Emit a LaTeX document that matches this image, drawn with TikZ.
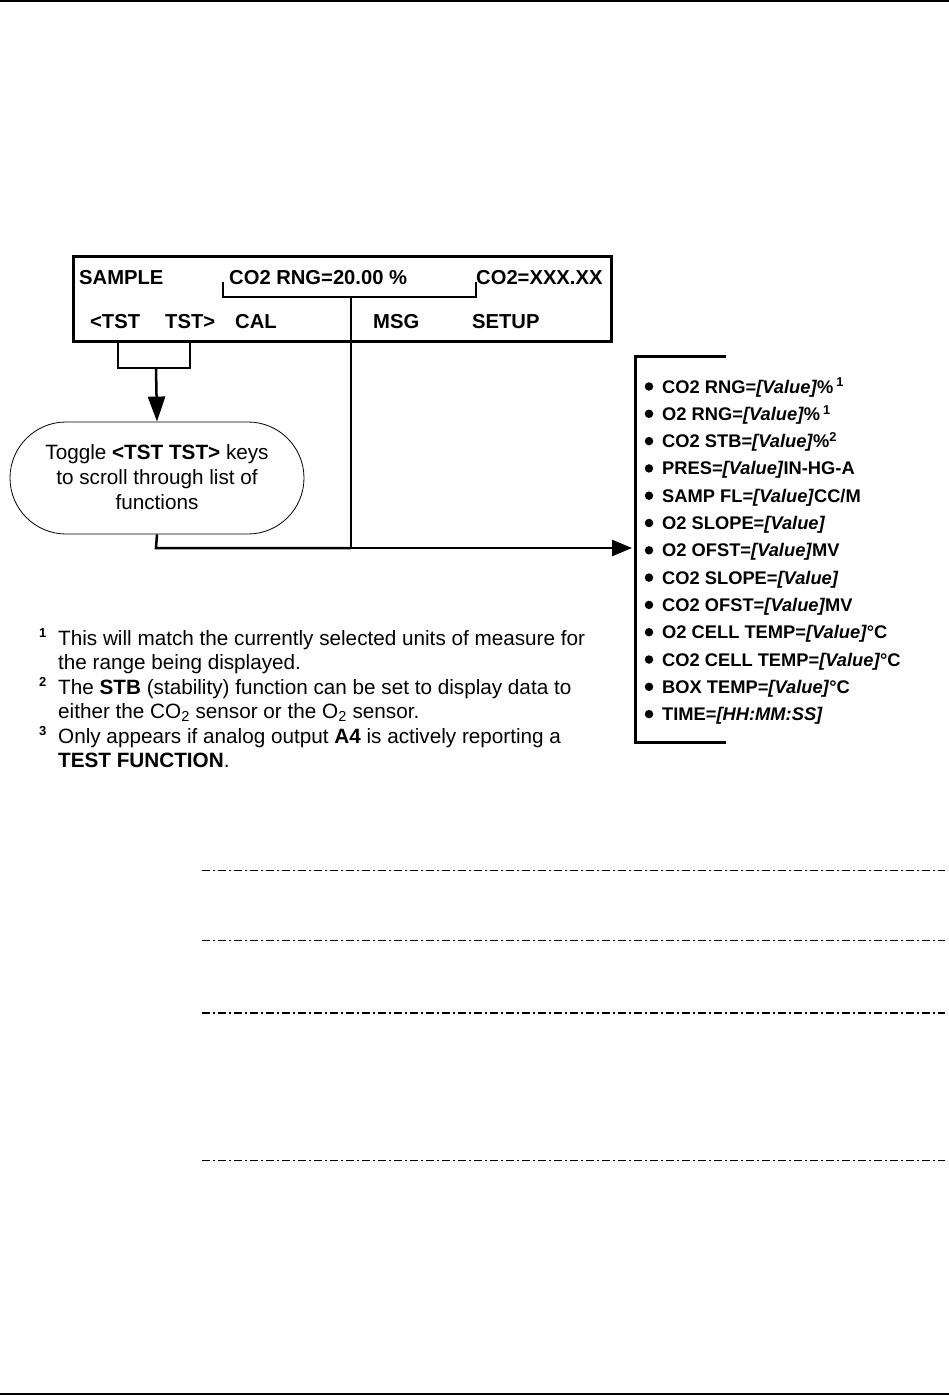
\documentclass[tikz,border=0pt]{standalone}
\usepackage{fontspec}
\setmainfont{Liberation Sans}
\usetikzlibrary{arrows.meta,shapes.misc}
\begin{document}
\begin{tikzpicture}[x=1pt,y=-1pt,line join=miter,
  disp/.style={font=\fontsize{20.2}{24}\selectfont\bfseries,anchor=base west,inner sep=0pt},
  item/.style={font=\fontsize{18.3}{22}\selectfont\bfseries,anchor=base west,inner sep=0pt},
  foot/.style={font=\fontsize{20.7}{24}\selectfont,anchor=base west,inner sep=0pt},
  fnum/.style={font=\fontsize{13}{15}\selectfont\bfseries,anchor=base west,inner sep=0pt},
  bul/.style={circle,fill=black,inner sep=0pt,minimum size=8.5pt},
  thick3/.style={line width=3pt},
  conn/.style={line width=2.5pt},
  arr/.style={-{Triangle[length=25pt,width=17pt]},line width=2.5pt},
  arrR/.style={-{Triangle[length=20pt,width=16pt]},line width=2.5pt},
  ddline/.style={line width=1pt,dash pattern=on 8pt off 3pt on 2pt off 3pt}
]
\useasboundingbox (0,0) rectangle (949,1396);
% page rules
\draw[line width=2pt] (0,1) -- (949,1);
\draw[line width=2pt] (0,1394) -- (949,1394);

% display box
\node[draw,line width=3pt,minimum width=538pt,minimum height=85pt,inner sep=0pt,anchor=north west] (disp) at (72,255) {};
\node[disp] (sample) at (79,285) {SAMPLE};
\node[disp] (rng) at (229,285) {CO2 RNG=20.00 \%};
\node[disp] (co2) at (476,285) {CO2=XXX.XX};
\node[disp] (tstl) at (90,328) {<TST};
\node[disp] (tstr) at (165,328) {TST>};
\node[disp] (cal) at (235,328) {CAL};
\node[disp] (msg) at (373,328) {MSG};
\node[disp] (setup) at (472,328) {SETUP};

% bracket under CO2 RNG
\coordinate (bl) at (223,282);
\coordinate (br) at (476,282);
\coordinate (bm) at (351,297);
\draw[conn] (bl) -- (223,297) -- (476,297) -- (br);

% TST lines
\coordinate (t1) at (118,340);
\coordinate (t2) at (190,340);
\draw[conn] (t1) -- (118,368) -- (190,368) -- (t2);

% stadium
\node[draw,line width=0.8pt,rounded rectangle,minimum width=294pt,minimum height=112pt,inner sep=0pt] (toggle) at (157,478) {};
\node[foot,anchor=base] (tg1) at (157,459) {Toggle \textbf{<TST TST>} keys};
\node[foot,anchor=base] (tg2) at (157,484) {to scroll through list of};
\node[foot,anchor=base] (tg3) at (157,509) {functions};

\draw[arr] (156,368) -- (toggle.north);

% connectors
\coordinate (junc) at (351,548);
\coordinate (listin) at (632,548);
\draw[conn] (toggle.south) -- (156,548) -- (junc);
\draw[conn] (bm) -- (junc);
\draw[arrR] (junc) -- (listin);

% list bracket
\draw[thick3] (726,356) -- (635,356) -- (635,742) -- (726,742);

\foreach \t [count=\i from 0] in {%
  CO2 RNG=\textit{[Value]}\%\,\textsuperscript{1},
  O2 RNG=\textit{[Value]}\%\,\textsuperscript{1},
  CO2 STB=\textit{[Value]}\%\textsuperscript{2},
  PRES=\textit{[Value]}IN-HG-A,
  SAMP FL=\textit{[Value]}CC/M,
  O2 SLOPE=\textit{[Value]},
  O2 OFST=\textit{[Value]}MV,
  CO2 SLOPE=\textit{[Value]},
  CO2 OFST=\textit{[Value]}MV,
  O2 CELL TEMP=\textit{[Value]}°C,
  CO2 CELL TEMP=\textit{[Value]}°C,
  BOX TEMP=\textit{[Value]}°C,
  TIME=\textit{[HH:MM:SS]}}
{
  \node[bul] (b\i) at (649,386.5+27.3*\i) {};
  \node[item] (l\i) at (662,393+27.3*\i) {\t};
}

% footnotes
\node[fnum] (f1) at (39,637) {1};
\node[foot] (n1) at (58,645) {This will match the currently selected units of measure for};
\node[foot] (n1b) at (58,669.5) {the range being displayed.};
\node[fnum] (f2) at (39,686) {2};
\node[foot] (n2) at (58,694) {The \textbf{STB} (stability) function can be set to display data to};
\node[foot] (n2b) at (58,718.5) {either the CO\textsubscript{2} sensor or the O\textsubscript{2} sensor.};
\node[fnum] (f3) at (39,735) {3};
\node[foot] (n3) at (58,743) {Only appears if analog output \textbf{A4} is actively reporting a};
\node[foot] (n3b) at (58,767.5) {\textbf{TEST FUNCTION}.};

% dash-dot rules
\draw[ddline] (202,870) -- (945,870);
\draw[ddline] (202,940) -- (945,940);
\draw[ddline,line width=1.6pt] (202,1013) -- (945,1013);
\draw[ddline] (202,1160) -- (945,1160);
\end{tikzpicture}
\end{document}
